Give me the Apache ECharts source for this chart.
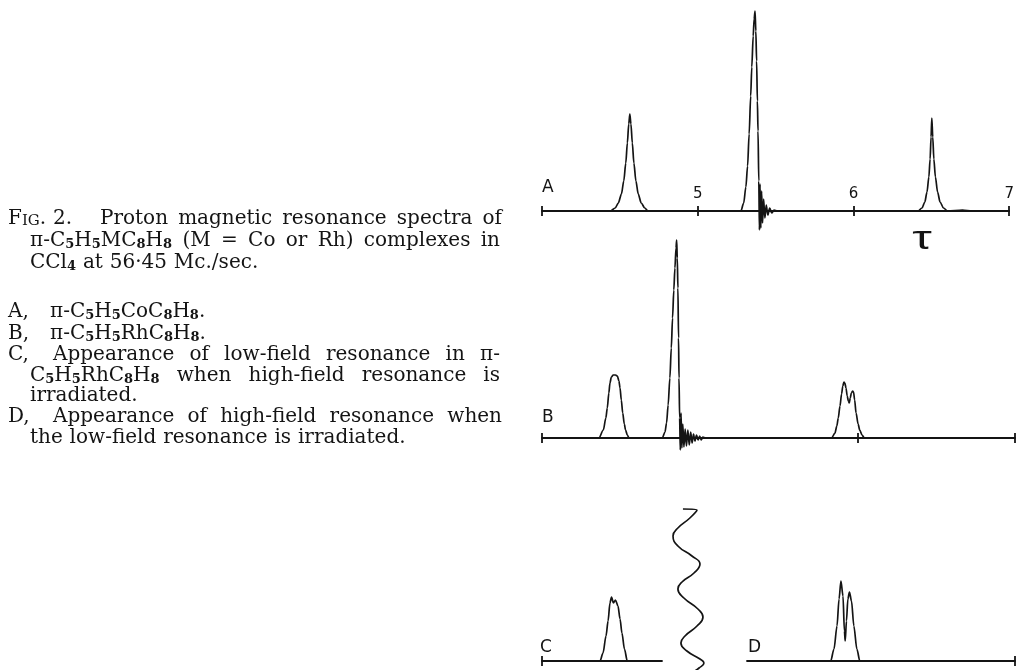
<!DOCTYPE html>
<html><head><meta charset="utf-8">
<script src="https://cdn.jsdelivr.net/npm/echarts@6/dist/echarts.min.js"></script>
<style>html,body{margin:0;padding:0;background:#fff}#c{width:1017px;height:670px}</style>
</head><body><div id="c"></div><script>
// ---------------- data (tau, relative intensity) ----------------
const tauTicksA = [4, 5, 6, 7];
const tauLabelsA = [5, 6, 7];
const tauTicksB = [4, 6, 7];
const tauTicksC = [4];
const tauTicksD = [7];
const panelLetters = ['A', 'B', 'C', 'D'];
const axisSymbol = 'τ';

const specA = [
  [4.00,0],[4.30,0],[4.44,0],[4.47,3],[4.49,8],[4.51,17],[4.525,30],[4.538,48],[4.548,68],[4.557,87],[4.564,97],
  [4.571,87],[4.580,68],[4.590,48],[4.603,30],[4.618,17],[4.637,8],[4.66,3],[4.68,0],
  [5.277,0],[5.295,8],[5.309,24],[5.320,45],[5.330,77],[5.340,115],[5.347,144],[5.356,175],[5.362,192],[5.368,200],
  [5.373,180],[5.378,150],[5.383,110],[5.387,80],[5.392,30],[5.396,-19],[5.400,27],[5.405,-17],[5.410,20],
  [5.416,-12],[5.423,12],[5.431,-7],[5.440,6],[5.450,-4],[5.462,3],[5.475,-2],[5.490,1],[5.510,0],
  [6.414,0],[6.44,3],[6.458,9],[6.472,19],[6.484,34],[6.492,52],[6.498,74],[6.503,93],
  [6.509,74],[6.516,52],[6.526,34],[6.540,19],[6.556,9],[6.578,3],[6.604,0],[6.70,1],[6.76,0],[7.00,0]
];
const specB = [
  [4.00,0],[4.30,0],[4.361,0],[4.389,8],[4.405,20],[4.414,30],[4.424,45],[4.431,55],[4.440,61],[4.452,63],[4.466,63],
  [4.478,62],[4.488,57],[4.495,50],[4.503,38],[4.512,25],[4.522,14],[4.530,8],[4.541,3],[4.552,0],
  [4.763,0],[4.780,6],[4.790,15],[4.800,33],[4.811,60],[4.820,90],[4.828,120],[4.836,148],[4.843,170],[4.850,190],[4.854,198],
  [4.858,180],[4.862,150],[4.866,100],[4.869,60],[4.873,20],[4.877,-12],[4.882,25],[4.887,-10],[4.893,14],[4.900,-9],
  [4.908,9],[4.916,-8],[4.925,8],[4.934,-7],[4.943,6],[4.952,-5],[4.961,4],[4.970,-3],[4.980,3],[4.990,-2],
  [5.000,2],[5.010,-2],[5.020,1],[5.035,0],
  [5.837,0],[5.858,5],[5.870,12],[5.879,20],[5.890,32],[5.900,44],[5.908,52],[5.915,56],[5.921,55],[5.928,50],
  [5.936,42],[5.943,37],[5.949,35],[5.955,40],[5.962,45],[5.970,47],[5.976,46],[5.983,38],[5.992,25],[6.005,14],
  [6.015,8],[6.030,3],[6.044,0],[7.00,0]
];
const specC = [
  [4.00,0],[4.368,0],[4.387,8],[4.406,25],[4.419,40],[4.431,58],[4.441,64],[4.453,58],[4.466,61],[4.482,55],
  [4.495,42],[4.507,28],[4.523,12],[4.541,0],[4.76,0]
];
const specD = [
  [5.30,0],[5.831,0],[5.852,12],[5.871,35],[5.884,62],[5.896,80],[5.909,65],[5.918,30],[5.923,20],[5.931,40],
  [5.940,62],[5.950,69],[5.963,60],[5.978,35],[5.997,12],[6.016,0],[7.00,0]
];
const waveCD = [
  [4.894,152],[4.983,151],[4.938,143],[4.862,133],[4.831,125],[4.862,115],[4.951,105],[5.002,97],[4.964,88],
  [4.888,79],[4.862,72],[4.900,63],[4.989,52],[5.021,44],[4.983,35],[4.907,25],[4.881,18],[4.919,10],
  [5.002,2],[5.027,-2],[4.996,-7],[4.958,-11]
];

// caption text: _d = subscript, [..] = small capitals
const captionLines = [
  ['F[IG]. 2.', 'Proton magnetic resonance spectra of'],
  ['π-C_5H_5MC_8H_8 (M = Co or Rh) complexes in'],
  ['CCl_4 at 56·45 Mc./sec.'],
  ['A,', 'π-C_5H_5CoC_8H_8.'],
  ['B,', 'π-C_5H_5RhC_8H_8.'],
  ['C,', 'Appearance of low-field resonance in π-'],
  ['C_5H_5RhC_8H_8 when high-field resonance is'],
  ['irradiated.'],
  ['D,', 'Appearance of high-field resonance when'],
  ['the low-field resonance is irradiated.']
];

// ---------------- layout ----------------
const X0 = 542, PX_PER_TAU = 473 / 3;
const tauAt = px => 4 + (px - X0) / PX_PER_TAU;
const INK = '#141414';
const captionLayout = [
  {y:225, parts:[{x:8},{x:100, x1:502}]},
  {y:247, parts:[{x:30, x1:500}]},
  {y:269, parts:[{x:30}]},
  {y:318, parts:[{x:8},{x:50}]},
  {y:340, parts:[{x:8},{x:50}]},
  {y:361, parts:[{x:8},{x:53, x1:500}]},
  {y:382, parts:[{x:30, x1:500}]},
  {y:402, parts:[{x:30}]},
  {y:423, parts:[{x:8},{x:53, x1:502}]},
  {y:444, parts:[{x:30}]}
];
const CAP_FONT = '"DejaVu Serif", "Liberation Serif", serif';
const SZ = {n:20, s:13, k:15};
const WT = {n:'normal', s:'bold', k:'normal'};
const rich = {
  n:{fontSize:20, fontFamily:CAP_FONT, lineHeight:20, fill:INK},
  s:{fontSize:13, fontFamily:CAP_FONT, fontWeight:'bold', lineHeight:9, verticalAlign:'bottom', fill:INK},
  k:{fontSize:15, fontFamily:CAP_FONT, lineHeight:18, verticalAlign:'bottom', fill:INK}
};
const mctx = document.createElement('canvas').getContext('2d');
function parseWord(w){
  const segs = [];
  const push = (k,t) => { if(!t) return; const l = segs[segs.length-1]; if(l && l.k===k) l.t += t; else segs.push({k,t}); };
  let cur = '', i = 0;
  while(i < w.length){
    const ch = w[i];
    if(ch === '_'){ push('n',cur); cur=''; push('s', w[i+1]); i += 2; continue; }
    if(ch === '['){ push('n',cur); cur=''; const j = w.indexOf(']', i); push('k', w.slice(i+1,j)); i = j+1; continue; }
    cur += ch; i++;
  }
  push('n',cur);
  return segs;
}
function measure(segs){
  let w = 0;
  segs.forEach(s => { mctx.font = WT[s.k] + ' ' + SZ[s.k] + 'px ' + CAP_FONT; w += mctx.measureText(s.t).width; });
  return w;
}
mctx.font = '20px ' + CAP_FONT;
const SPACE = mctx.measureText(' ').width + 0.5;
const graphics = [];
captionLines.forEach((line, li) => {
  const lay = captionLayout[li];
  line.forEach((part, pi) => {
    const p = lay.parts[pi];
    const words = part.split(' ').map(parseWord);
    const widths = words.map(measure);
    let gap = SPACE;
    if (p.x1 && words.length > 1) gap = (p.x1 - p.x - widths.reduce((a,b)=>a+b,0)) / (words.length - 1);
    let x = p.x;
    words.forEach((segs, wi) => {
      graphics.push({type:'text', x:x, y:lay.y - 6, silent:true,
        style:{text: segs.map(s => '{' + s.k + '|' + s.t + '}').join(''), rich: rich,
               fontFamily:CAP_FONT, fontSize:20, fill:INK, align:'left', verticalAlign:'middle'}});
      x += widths[wi] + gap;
    });
  });
});
// panel letters and tau symbol
const letterPos = [[542,193],[542,423],[540,653],[748,653]];
panelLetters.forEach((L, i) => {
  graphics.push({type:'text', x:letterPos[i][0], y:letterPos[i][1]-5, silent:true,
    style:{text:L, fontFamily:'"DejaVu Sans", sans-serif', fontSize:17, fill:INK, align:'left', verticalAlign:'middle'}});
});
graphics.push({type:'text', x:922, y:240, scaleX:1.45, silent:true,
  style:{text:axisSymbol, fontFamily:'"Liberation Sans", sans-serif', fontSize:34, fill:INK, align:'center', verticalAlign:'middle'}});

// ---------------- chart ----------------
const grids = [
  {left:X0, top:11, width:473, height:200},
  {left:X0, top:238, width:473, height:200},
  {left:X0, top:501, width:120, height:160},
  {left:747, top:501, width:268, height:160},
  {left:X0, top:501, width:473, height:160}
];
const yMax = [200, 200, 160, 160, 160];
function mainAxis(g, min, max, ticks, labels){
  return {type:'value', gridIndex:g, min:min, max:max, position:'bottom', offset:0,
    axisLine:{show:true, onZero:false, lineStyle:{color:INK, width:1.8}},
    axisTick:{show:true, inside:true, length:5, customValues:ticks, lineStyle:{color:INK, width:1.8}},
    axisLabel: labels ? {show:true, inside:true, margin:9, customValues:labels, fontSize:15,
      fontFamily:'"DejaVu Sans", sans-serif', color:INK} : {show:false},
    splitLine:{show:false}};
}
function outerTicks(g, min, max, ticks){
  return {type:'value', gridIndex:g, min:min, max:max, position:'bottom', offset:0,
    axisLine:{show:false, onZero:false}, axisLabel:{show:false}, splitLine:{show:false},
    axisTick:{show:true, inside:false, length:5, customValues:ticks, lineStyle:{color:INK, width:1.8}}};
}
const cMax = tauAt(X0 + 120), dMin = tauAt(747);
const xAxes = [
  mainAxis(0, 4, 7, tauTicksA, tauLabelsA), outerTicks(0, 4, 7, tauTicksA),
  mainAxis(1, 4, 7, tauTicksB, null), outerTicks(1, 4, 7, tauTicksB),
  mainAxis(2, 4, cMax, tauTicksC, null), outerTicks(2, 4, cMax, tauTicksC),
  mainAxis(3, dMin, 7, tauTicksD, null), outerTicks(3, dMin, 7, tauTicksD),
  {type:'value', gridIndex:4, min:4, max:7, show:false}
];
const yAxes = yMax.map((m, i) => ({type:'value', gridIndex:i, min:0, max:m, show:false}));
const lineSeries = (data, xi, yi, smooth, mono) => ({type:'line', data:data, xAxisIndex:xi, yAxisIndex:yi,
  showSymbol:false, symbol:'none', smooth:smooth, smoothMonotone:mono, clip:false, silent:true,
  lineStyle:{color:INK, width:1.7}, z:5});
const chart = echarts.init(document.getElementById('c'), null, {renderer:'canvas'});
chart.setOption({
  animation:false,
  backgroundColor:'#ffffff',
  grid:grids, xAxis:xAxes, yAxis:yAxes,
  series:[
    lineSeries(specA, 0, 0, 0.3, 'x'),
    lineSeries(specB, 2, 1, 0.3, 'x'),
    lineSeries(specC, 4, 2, 0.3, 'x'),
    lineSeries(specD, 6, 3, 0.3, 'x'),
    lineSeries(waveCD, 8, 4, 0.5, null)
  ],
  graphic:{elements:graphics}
});
</script></body></html>
